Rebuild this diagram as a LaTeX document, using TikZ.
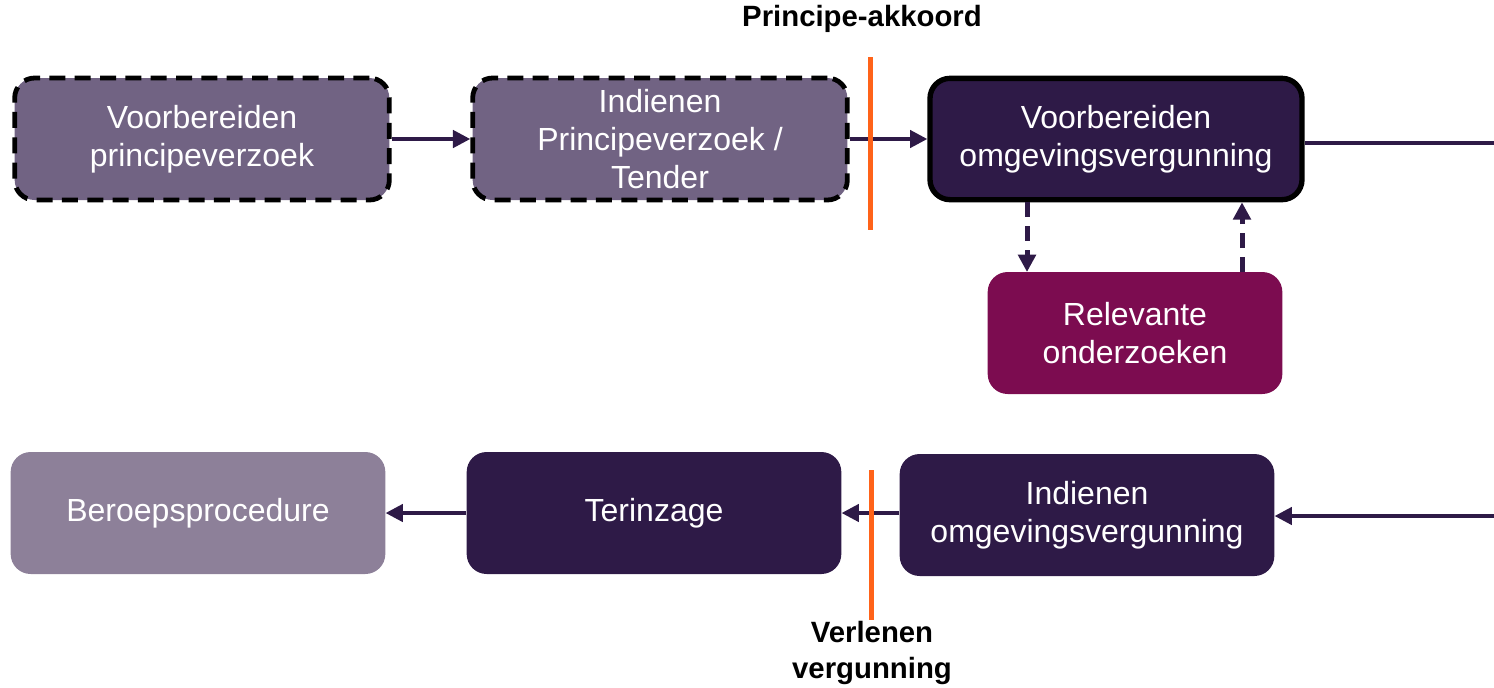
\documentclass[tikz,border=0pt]{standalone}
\usepackage{fontspec}
\setmainfont{Liberation Sans}
\usetikzlibrary{arrows.meta,positioning}
\definecolor{grijspaars}{RGB}{113,99,131}
\definecolor{donkerpaars}{RGB}{46,26,71}
\definecolor{wijnrood}{RGB}{124,12,80}
\definecolor{lichtgrijs}{RGB}{141,128,153}
\definecolor{oranje}{RGB}{255,99,25}

\begin{document}
\begin{tikzpicture}[x=0.75pt,y=-0.75pt,
  stap/.style={rounded corners=15pt, minimum width=281pt, minimum height=91.5pt, inner sep=0pt,
    align=center, text=white, font=\fontsize{24}{28.5}\selectfont},
  voorlopig/.style={stap, fill=grijspaars, draw=black, line width=3.6pt, dash pattern=on 12pt off 7pt},
  pijl/.style={draw=donkerpaars, line width=2.7pt, -{Triangle[length=13pt,width=13pt]}},
  stippelpijl/.style={pijl, line width=3.75pt, dash pattern=on 11pt off 7pt},
  mijlpaal/.style={draw=oranje, line width=3.75pt},
  kop/.style={font=\bfseries\fontsize{22}{27}\selectfont, align=center}]
\useasboundingbox (0,0) rectangle (1494,687);

% bovenste rij
\node[voorlopig] (vbpv) at (202,139) {Voorbereiden\\principeverzoek};
\node[voorlopig] (ipv) at (660,139) {Indienen\\Principeverzoek /\\Tender};
\node[stap, fill=donkerpaars, draw=black, line width=4pt, minimum width=279pt, minimum height=91pt] (vbov) at (1116,139) {Voorbereiden\\omgevingsvergunning};
\node[stap, fill=wijnrood, minimum width=221pt] (ro) at (1135,333) {Relevante\\onderzoeken};

% onderste rij
\node[stap, fill=lichtgrijs] (bp) at (198,513) {Beroepsprocedure};
\node[stap, fill=donkerpaars] (tz) at (654,513) {Terinzage};
\node[stap, fill=donkerpaars] (iov) at (1087,515) {Indienen\\omgevingsvergunning};

\coordinate (rand1) at (1494,143);
\coordinate (rand2) at (1494,516);
\coordinate (ro1) at (1027,272);
\coordinate (ro2) at (1242,272);

\draw[pijl] (vbpv) -- (ipv);
\draw[pijl] (ipv.east) -- (ipv.east -| vbov.west);
\draw[draw=donkerpaars, line width=2.7pt] (vbov.east |- rand1) -- (rand1);
\draw[stippelpijl] (vbov.south -| ro1) -- (ro1);
\draw[stippelpijl] (ro2) -- (vbov.south -| ro2);
\draw[pijl] (rand2) -- (rand2 -| iov.east);
\draw[pijl] (iov.west |- tz.east) -- (tz.east);
\draw[pijl] (tz) -- (bp);

% mijlpalen
\coordinate (pa1) at (870,57);
\coordinate (pa2) at (870,230);
\coordinate (vv1) at (871,470);
\coordinate (vv2) at (871,620);
\draw[mijlpaal] (pa1) -- (pa2);
\draw[mijlpaal] (vv1) -- (vv2);
\node[kop] (pakk) at (862,19) {Principe-akkoord};
\node[kop] (verl) at (872,653) {Verlenen\\vergunning};
\end{tikzpicture}
\end{document}
